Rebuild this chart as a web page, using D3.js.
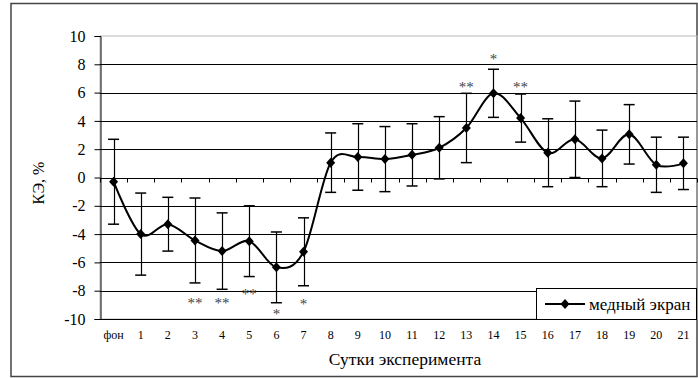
<!DOCTYPE html>
<html>
<head>
<meta charset="utf-8">
<script src="https://cdn.jsdelivr.net/npm/d3@7/dist/d3.min.js"></script>
<style>
  html, body { margin: 0; padding: 0; background: #fff; }
  svg { display: block; }
  svg text { font-family: "Liberation Serif", "Times New Roman", "DejaVu Serif", serif; }
</style>
</head>
<body>
<div id="chart"></div>
<script>
const days = ['фон', '1', '2', '3', '4', '5', '6', '7', '8', '9', '10',
  '11', '12', '13', '14', '15', '16', '17', '18', '19', '20', '21'];
const means = [-0.3, -4.0, -3.3, -4.45, -5.2, -4.5, -6.35, -5.25, 1.05, 1.45, 1.3,
  1.6, 2.1, 3.5, 5.95, 4.2, 1.75, 2.7, 1.35, 3.05, 0.9, 1.0];
const errors = [3.0, 2.9, 1.9, 3.0, 2.7, 2.5, 2.5, 2.4, 2.1, 2.35, 2.3,
  2.2, 2.2, 2.45, 1.7, 1.7, 2.4, 2.7, 2.0, 2.1, 1.95, 1.85];
const yTicks = [-10, -8, -6, -4, -2, 0, 2, 4, 6, 8, 10];

// significance marks
const starDays = ['3', '4', '5', '6', '7', '13', '14', '15'];
const starMarks = ['**', '**', '**', '*', '*', '**', '*', '**'];
const starLevels = [-8.7, -8.7, -8.1, -9.5, -8.8, 6.55, 8.5, 6.55];

const seriesName = 'медный экран';
const xTitle = 'Сутки эксперимента';
const yTitle = 'КЭ, %';

const W = 698, H = 378;
const plot = { left: 100, right: 697, top: 36, bottom: 319 };

const svg = d3.select('#chart').append('svg')
  .attr('width', W).attr('height', H);

// outer frame
svg.append('rect')
  .attr('x', 11).attr('y', 3.5)
  .attr('width', 686).attr('height', 373)
  .attr('fill', 'none').attr('stroke', '#444').attr('stroke-width', 1.5);

const x = d3.scaleBand().domain(days).range([plot.left, plot.right]).padding(0);
const y = d3.scaleLinear().domain([-10, 10]).range([plot.bottom, plot.top]);
const cx = d => x(d) + x.bandwidth() / 2;

// plot area border
svg.append('rect')
  .attr('x', plot.left).attr('y', plot.top)
  .attr('width', plot.right - plot.left).attr('height', plot.bottom - plot.top)
  .attr('fill', 'none').attr('stroke', '#bbb');

// gridlines
svg.append('g').selectAll('line')
  .data(yTicks.filter(t => t < 10))
  .join('line')
  .attr('x1', plot.left).attr('x2', plot.right)
  .attr('y1', d => Math.round(y(d)) + 0.5).attr('y2', d => Math.round(y(d)) + 0.5)
  .attr('stroke', '#000').attr('stroke-width', 1);

// y axis
const yAxis = svg.append('g')
  .attr('transform', `translate(${plot.left + 0.5},0)`)
  .call(d3.axisLeft(y).tickValues(yTicks).tickSize(6).tickPadding(9));
yAxis.select('.domain').attr('stroke', '#000');
yAxis.selectAll('.tick line').attr('stroke', '#000');
yAxis.selectAll('.tick text')
  .attr('font-size', 16).attr('fill', '#000')
  .text(d => d < 0 ? '-' + Math.abs(d) : String(d));

// x axis crossing at zero, ticks between categories
const zeroY = Math.round(y(0)) + 0.5;
svg.append('g').selectAll('line')
  .data(days.map(d => x(d)).concat([plot.right]))
  .join('line')
  .attr('x1', d => Math.round(d) + 0.5).attr('x2', d => Math.round(d) + 0.5)
  .attr('y1', zeroY).attr('y2', zeroY + 4)
  .attr('stroke', '#000');

// x tick labels at bottom
svg.append('g').selectAll('text')
  .data(days)
  .join('text')
  .attr('x', d => cx(d))
  .attr('y', 339)
  .attr('text-anchor', 'middle')
  .attr('font-size', 12)
  .attr('fill', '#000')
  .text(d => d);

// axis titles
svg.append('text')
  .attr('x', 405).attr('y', 365)
  .attr('text-anchor', 'middle')
  .attr('font-size', 17.5)
  .text(xTitle);

svg.append('text')
  .attr('transform', 'translate(44,183) rotate(-90)')
  .attr('text-anchor', 'middle')
  .attr('font-size', 16)
  .text(yTitle);

const points = days.map((d, i) => ({ day: d, v: means[i], e: errors[i] }));

// error bars
const eb = svg.append('g').selectAll('g')
  .data(points)
  .join('g');
eb.append('line')
  .attr('x1', d => Math.round(cx(d.day)) + 0.5).attr('x2', d => Math.round(cx(d.day)) + 0.5)
  .attr('y1', d => y(d.v + d.e)).attr('y2', d => y(d.v - d.e))
  .attr('stroke', '#000').attr('stroke-width', 1.2);
[1, -1].forEach(s => {
  eb.append('line')
    .attr('x1', d => cx(d.day) - 5.5).attr('x2', d => cx(d.day) + 5.5)
    .attr('y1', d => y(d.v + s * d.e)).attr('y2', d => y(d.v + s * d.e))
    .attr('stroke', '#000').attr('stroke-width', 1.5);
});

// smoothed line
const line = d3.line()
  .x(d => cx(d.day))
  .y(d => y(d.v))
  .curve(d3.curveCardinal.tension(0));
svg.append('path')
  .datum(points)
  .attr('d', line)
  .attr('fill', 'none')
  .attr('stroke', '#000')
  .attr('stroke-width', 2);

// diamond markers
const diamond = 'M0,-5L4.5,0L0,5L-4.5,0Z';
svg.append('g').selectAll('path')
  .data(points)
  .join('path')
  .attr('transform', d => `translate(${cx(d.day)},${y(d.v)})`)
  .attr('d', diamond)
  .attr('fill', '#000');

// significance asterisks
svg.append('g').selectAll('text')
  .data(starDays.map((d, i) => ({ day: d, mark: starMarks[i], v: starLevels[i] })))
  .join('text')
  .attr('x', d => cx(d.day))
  .attr('y', d => y(d.v) + 7)
  .attr('text-anchor', 'middle')
  .attr('font-size', 15)
  .attr('fill', '#444')
  .text(d => d.mark);

// legend
const lg = svg.append('g');
lg.append('rect')
  .attr('x', 536.5).attr('y', 288.5)
  .attr('width', 160).attr('height', 31)
  .attr('fill', '#fff').attr('stroke', '#000');
lg.append('line')
  .attr('x1', 545).attr('x2', 585).attr('y1', 304).attr('y2', 304)
  .attr('stroke', '#000').attr('stroke-width', 2);
lg.append('path')
  .attr('transform', 'translate(565,304)')
  .attr('d', diamond).attr('fill', '#000');
lg.append('text')
  .attr('x', 589).attr('y', 309.5)
  .attr('font-size', 17)
  .text(seriesName);
</script>
</body>
</html>
